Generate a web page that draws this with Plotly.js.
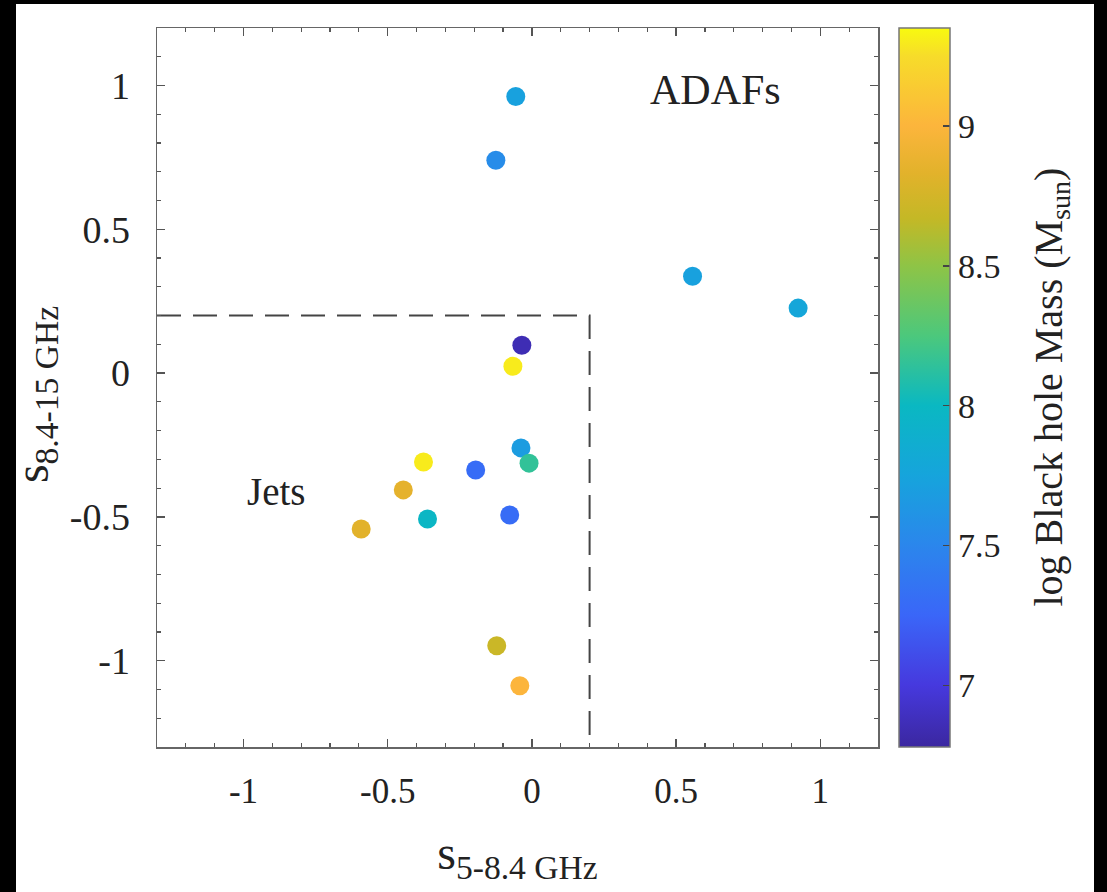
<!DOCTYPE html>
<html>
<head>
<meta charset="utf-8">
<script src="https://cdn.plot.ly/plotly-3.0.1.min.js"></script>
<style>
  html, body { margin: 0; padding: 0; background: #fff; }
  #wrap { position: relative; width: 1107px; height: 892px; overflow: hidden; }
  #chart { position: absolute; left: 0; top: 0; width: 1107px; height: 892px; }
  .edge { position: absolute; background: #000; z-index: 10; }
</style>
</head>
<body>
<div id="wrap">
  <div id="chart"></div>
  <div class="edge" style="left:0;top:0;width:16px;height:892px;"></div>
  <div class="edge" style="left:0;top:0;width:1107px;height:4px;"></div>
  <div class="edge" style="left:1094px;top:0;width:13px;height:892px;"></div>
</div>
<script>
// spectral index 5-8.4 GHz
const s58 = [-0.056, -0.125, 0.557, 0.923, -0.035, -0.066, -0.038, -0.010, -0.195, -0.376, -0.446, -0.362, -0.077, -0.592, -0.122, -0.042];
// spectral index 8.4-15 GHz
const s815 = [0.962, 0.740, 0.337, 0.226, 0.097, 0.024, -0.260, -0.313, -0.337, -0.309, -0.406, -0.507, -0.493, -0.542, -0.948, -1.087];
// log black hole mass
const logMass = [7.72, 7.55, 7.72, 7.78, 6.85, 9.30, 7.68, 8.15, 7.30, 9.30, 8.85, 7.98, 7.30, 8.83, 8.70, 9.00];

// dividing box (jets region)
const boxX = [-1.3, 0.2, 0.2];
const boxY = [0.2, 0.2, -1.3];

const xTickVals = [-1, -0.5, 0, 0.5, 1];
const xTickText = ['-1', '-0.5', '0', '0.5', '1'];
const yTickVals = [-1, -0.5, 0, 0.5, 1];
const yTickText = ['-1', '-0.5', '0', '0.5', '1'];
const cbTickVals = [7, 7.5, 8, 8.5, 9];
const cbTickText = ['7', '7.5', '8', '8.5', '9'];

const labels = ['ADAFs', 'Jets'];
const labelX = [0.638, -0.885];
const labelY = [0.986, -0.413];
const colorbarTitle = 'log Black hole Mass (M<sub>sun</sub>)';
const xTitle = 's<sub>5-8.4 GHz</sub>';
const yTitle = 's<sub>8.4-15 GHz</sub>';

const parula = [
  [0.000, '#3b27a0'],
  [0.086, '#4639de'],
  [0.183, '#3a66f8'],
  [0.280, '#2b86ec'],
  [0.377, '#16a4dc'],
  [0.475, '#0ab8c2'],
  [0.572, '#4cc87c'],
  [0.669, '#8ec446'],
  [0.735, '#c4b826'],
  [0.798, '#e2b22b'],
  [0.864, '#fcb53c'],
  [0.961, '#f7dc2a'],
  [1.000, '#f8fa0f']
];

const font = "'Liberation Serif', 'Times New Roman', serif";

const traces = [
  {
    x: boxX, y: boxY, mode: 'lines', type: 'scatter',
    line: { color: '#444', width: 2, dash: '24px,12px' },
    hoverinfo: 'skip', showlegend: false
  },
  {
    x: s58, y: s815, mode: 'markers', type: 'scatter',
    marker: {
      size: 19, color: logMass, colorscale: parula, cmin: 6.78, cmax: 9.35,
      line: { width: 0 },
      showscale: true,
      colorbar: {
        x: 1.0291, xanchor: 'left', xref: 'paper',
        y: 0.5, yanchor: 'middle', len: 1, lenmode: 'fraction', ypad: 0, xpad: 0,
        thickness: 51, thicknessmode: 'pixels',
        outlinecolor: '#777', outlinewidth: 1.5,
        ticks: 'inside', ticklen: 7, tickcolor: '#444', tickwidth: 1.5,
        tickvals: cbTickVals, ticktext: cbTickText,
        tickfont: { family: font, size: 34, color: '#222' },
        ticklabelstandoff: 8
      }
    },
    showlegend: false
  }
];

const axisCommon = {
  range: [-1.3, 1.2], showgrid: false, zeroline: false,
  showline: true, linecolor: '#666', linewidth: 1.5, mirror: 'allticks',
  ticks: 'inside', ticklen: 8, tickwidth: 1.5, tickcolor: '#555',
  minor: { ticks: 'inside', ticklen: 4, dtick: 0.1, tick0: 0, tickcolor: '#555', tickwidth: 1.2, showgrid: false }
};

const annots = labels.map((t, i) => ({
  x: labelX[i], y: labelY[i], xref: 'x', yref: 'y', text: t, showarrow: false,
  font: { family: font, size: i === 0 ? 42 : 39, color: '#222' }
}));
annots.push({
  x: 1.2386, y: 0.5, xref: 'paper', yref: 'paper', text: colorbarTitle, showarrow: false,
  textangle: -90, xanchor: 'center', yanchor: 'middle',
  font: { family: font, size: 40, color: '#222' }
});
annots.push({
  x: -0.170, y: 0.49, xref: 'paper', yref: 'paper', text: yTitle, showarrow: false,
  textangle: -90, xanchor: 'center', yanchor: 'middle',
  font: { family: font, size: 48, color: '#222' }
});

const layout = {
  width: 1107, height: 892,
  paper_bgcolor: '#fff', plot_bgcolor: '#fff',
  margin: { l: 157, r: 229, t: 28, b: 145 },
  showlegend: false,
  xaxis: Object.assign({}, axisCommon, {
    tickvals: xTickVals, ticktext: xTickText, ticklabelstandoff: 12,
    tickfont: { family: font, size: 35, color: '#222' },
    title: { text: xTitle, font: { family: font, size: 48, color: '#222' }, standoff: 26 }
  }),
  yaxis: Object.assign({}, axisCommon, {
    tickvals: yTickVals, ticktext: yTickText, ticklabelstandoff: 18,
    tickfont: { family: font, size: 38, color: '#222' }
  }),
  annotations: annots
};

Plotly.newPlot('chart', traces, layout, { displayModeBar: false, staticPlot: true });
</script>
</body>
</html>
